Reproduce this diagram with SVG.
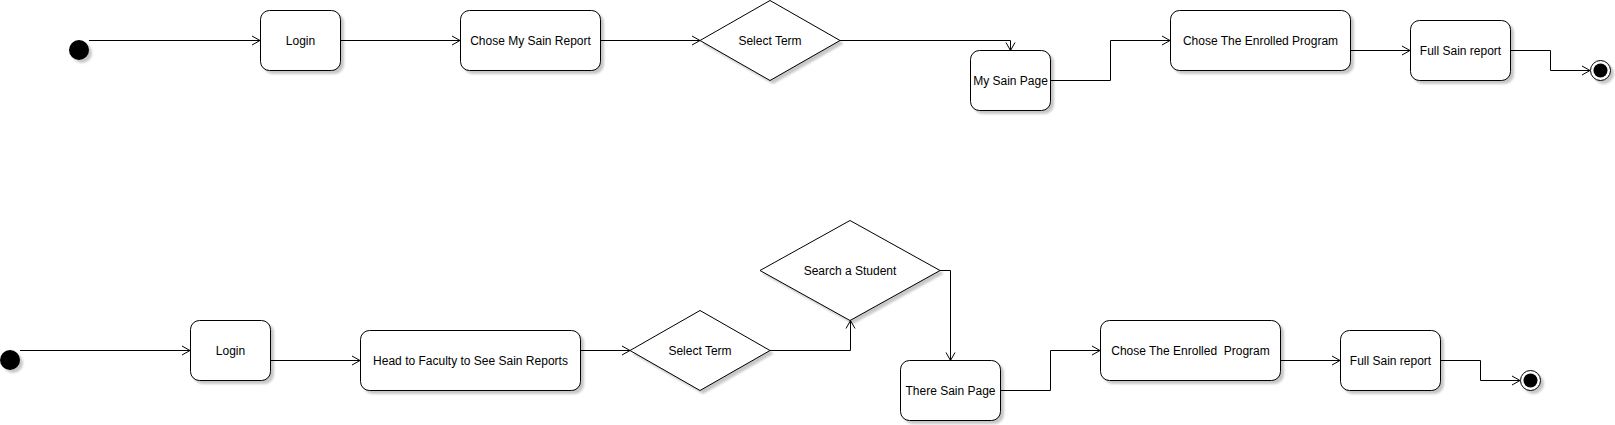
<svg xmlns="http://www.w3.org/2000/svg" width="1615" height="425" viewBox="0 0 1615 425">
<defs>
<filter id="sh" x="-20%" y="-20%" width="150%" height="150%">
<feDropShadow dx="3" dy="3" stdDeviation="1" flood-color="#000" flood-opacity="0.22"/>
</filter>
<marker id="arr" markerUnits="userSpaceOnUse" markerWidth="12" markerHeight="12" refX="9" refY="5" orient="auto" viewBox="0 0 12 10">
<path d="M1,0.5 L9,5 L1,9.5" fill="none" stroke="#000" stroke-width="1"/>
</marker>
</defs>
<style>
.node rect, .node polygon { fill: #fff; stroke: #000; stroke-width: 1; filter: url(#sh); }
.start { fill: #000; filter: url(#sh); }
.endo { fill: #fff; stroke: #000; stroke-width: 1; filter: url(#sh); }
.endi { fill: #000; }
text { font-family: "Liberation Sans", Arial, Helvetica, sans-serif; font-size: 12px; fill: #000; text-anchor: middle; white-space: pre; }
.edges path { fill: none; stroke: #000; stroke-width: 1; marker-end: url(#arr); }
</style>
<rect x="0" y="0" width="1615" height="425" fill="#fff"/>

<g class="edges" id="connectors">
<path d="M89,40.5 H260"/>
<path d="M340,40.5 H460"/>
<path d="M600,40.5 H700"/>
<path d="M840,40.5 H1010.5 V50.5"/>
<path d="M1050,80.5 H1110.5 V40.5 H1170"/>
<path d="M1350,50.5 H1410"/>
<path d="M1510,50.5 H1550.5 V70.5 H1590"/>

<path d="M20,350.5 H190"/>
<path d="M270,360.5 H360"/>
<path d="M580,350.5 H630"/>
<path d="M770,350.5 H850.5 V320.5"/>
<path d="M940,270.5 H950.5 V360.5"/>
<path d="M1000,390.5 H1050.5 V350.5 H1100"/>
<path d="M1280,360.5 H1340"/>
<path d="M1440,360.5 H1480.5 V380.5 H1520"/>
</g>

<g id="start1" class="node"><circle class="start" cx="79" cy="50" r="10"/></g>
<g id="login1" class="node"><rect x="260.5" y="10.5" width="80" height="60" rx="9"/><text x="300.5" y="44.5">Login</text></g>
<g id="choseReport" class="node"><rect x="460.5" y="10.5" width="140" height="60" rx="9"/><text x="530.5" y="44.5">Chose My Sain Report</text></g>
<g id="selectTerm1" class="node"><polygon points="700,40.5 770,0.5 840,40.5 770,80.5"/><text x="770" y="44.5">Select Term</text></g>
<g id="mySainPage" class="node"><rect x="970.5" y="50.5" width="80" height="60" rx="9"/><text x="1010.5" y="84.5">My Sain Page</text></g>
<g id="choseProgram1" class="node"><rect x="1170.5" y="10.5" width="180" height="60" rx="9"/><text x="1260.5" y="44.5">Chose The Enrolled Program</text></g>
<g id="fullReport1" class="node"><rect x="1410.5" y="20.5" width="100" height="60" rx="9"/><text x="1460.5" y="54.5">Full Sain report</text></g>
<g id="end1" class="node"><circle class="endo" cx="1600.5" cy="70.5" r="10"/><circle class="endi" cx="1600.5" cy="70.5" r="7"/></g>

<g id="start2" class="node"><circle class="start" cx="10" cy="360" r="10"/></g>
<g id="login2" class="node"><rect x="190.5" y="320.5" width="80" height="60" rx="9"/><text x="230.5" y="354.5">Login</text></g>
<g id="headFaculty" class="node"><rect x="360.5" y="330.5" width="220" height="60" rx="9"/><text x="470.5" y="364.5">Head to Faculty to See Sain Reports</text></g>
<g id="selectTerm2" class="node"><polygon points="630,350.5 700,310.5 770,350.5 700,390.5"/><text x="700" y="354.5">Select Term</text></g>
<g id="searchStudent" class="node"><polygon points="760,270.5 850,220.5 940,270.5 850,320.5"/><text x="850" y="274.5">Search a Student</text></g>
<g id="thereSainPage" class="node"><rect x="900.5" y="360.5" width="100" height="60" rx="9"/><text x="950.5" y="394.5">There Sain Page</text></g>
<g id="choseProgram2" class="node"><rect x="1100.5" y="320.5" width="180" height="60" rx="9"/><text x="1190.5" y="354.5">Chose The Enrolled  Program</text></g>
<g id="fullReport2" class="node"><rect x="1340.5" y="330.5" width="100" height="60" rx="9"/><text x="1390.5" y="364.5">Full Sain report</text></g>
<g id="end2" class="node"><circle class="endo" cx="1530.5" cy="380.5" r="10"/><circle class="endi" cx="1530.5" cy="380.5" r="7"/></g>
</svg>
